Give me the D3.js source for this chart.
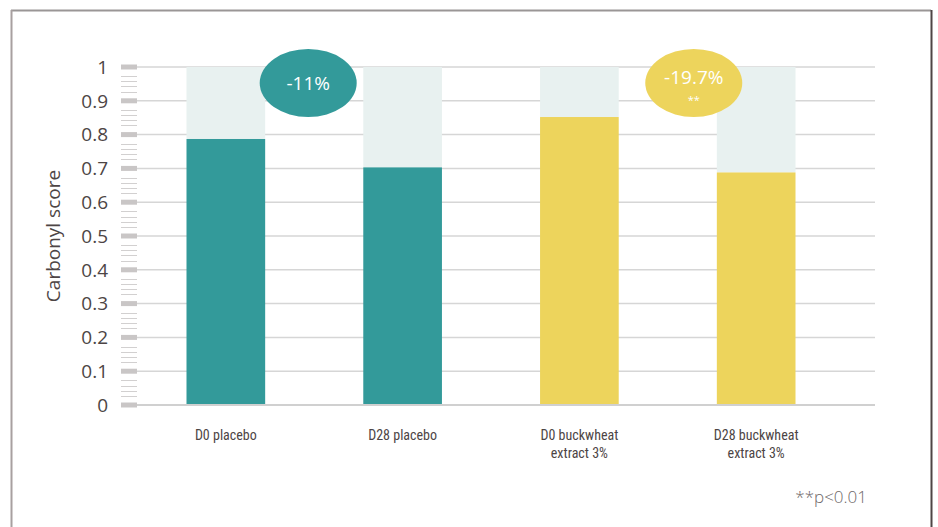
<!DOCTYPE html>
<html><head><meta charset="utf-8">
<script src="https://cdn.jsdelivr.net/npm/d3@7"></script>
<style>body{margin:0;background:#fff}svg{display:block}</style>
</head><body><svg id="c" width="938" height="527"></svg>
<script>
const categories = ["D0 placebo", "D28 placebo", "D0 buckwheat\nextract 3%", "D28 buckwheat\nextract 3%"];
const values = [0.787, 0.703, 0.852, 0.688];
const groups = ["placebo", "placebo", "buckwheat", "buckwheat"];
const yTicks = [0, 0.1, 0.2, 0.3, 0.4, 0.5, 0.6, 0.7, 0.8, 0.9, 1];
const minorOffsets = [0.0275, 0.0425, 0.0575, 0.0725];
const badgeGroups = ["placebo", "buckwheat"];
const badgeLabels = ["-11%", "-19.7%"];
const badgeSig = ["", "**"];
const colors = {placebo: "#339a9a", buckwheat: "#edd45c"};

const svg = d3.select("#c");
const txt = "#4d4545";
// frame
svg.append("line").attr("x1",11).attr("x2",931).attr("y1",10.5).attr("y2",10.5).attr("stroke","#9a9696").attr("stroke-width",2);
svg.append("line").attr("x1",11.5).attr("x2",11.5).attr("y1",10).attr("y2",527).attr("stroke","#a8a0a0").attr("stroke-width",2);
svg.append("line").attr("x1",931.5).attr("x2",931.5).attr("y1",10).attr("y2",527).attr("stroke","#4f4545").attr("stroke-width",2);

const y = d3.scaleLinear().domain([0,1]).range([405,67]);
const x = d3.scaleBand().domain(d3.range(categories.length)).range([137,845]).paddingInner(0.555).paddingOuter(0.28);
// continuous position along categories (index -> band centre)
const xc = d3.scaleLinear().domain([0,1]).range([x(0)+x.bandwidth()/2, x(1)+x.bandwidth()/2]);

// gridlines
svg.append("g").selectAll("line").data(yTicks).join("line")
  .attr("x1",137).attr("x2",875).attr("y1",d=>y(d)).attr("y2",d=>y(d))
  .attr("stroke","#d6d6d6").attr("stroke-width",1.5);

// minor ticks
const minor = [];
yTicks.slice(0,-1).forEach(t=>minorOffsets.forEach(o=>minor.push(t+o)));
svg.append("g").selectAll("line").data(minor).join("line")
  .attr("x1",121).attr("x2",137).attr("y1",d=>Math.round(y(d))+0.5).attr("y2",d=>Math.round(y(d))+0.5)
  .attr("stroke","#d2d0d0").attr("stroke-width",1);
// major ticks
svg.append("g").selectAll("line").data(yTicks).join("line")
  .attr("x1",121).attr("x2",137).attr("y1",d=>y(d)).attr("y2",d=>y(d))
  .attr("stroke","#c9c6c6").attr("stroke-width",5);
// tick labels
svg.append("g").selectAll("text").data(yTicks).join("text")
  .attr("x",108).attr("y",d=>y(d)).attr("dy","0.36em").attr("text-anchor","end")
  .attr("font-family","Open Sans, sans-serif").attr("font-size",19).attr("fill",txt)
  .text(d=>d3.format("")(d));
// axis title
svg.append("text").attr("transform","translate(60,236) rotate(-90)").attr("text-anchor","middle")
  .attr("font-family","Open Sans, sans-serif").attr("font-size",19).attr("fill",txt).text("Carbonyl score");

// background bars
svg.append("g").selectAll("rect").data(values).join("rect")
  .attr("x",(d,i)=>x(i)).attr("width",x.bandwidth()).attr("y",y(1)).attr("height",d=>y(d)-y(1))
  .attr("fill","#e8f1f0");
// bars
svg.append("g").selectAll("rect").data(values).join("rect")
  .attr("x",(d,i)=>x(i)).attr("width",x.bandwidth()).attr("y",d=>y(d)).attr("height",d=>y(0)-y(d))
  .attr("fill",(d,i)=>colors[groups[i]]);
// baseline
svg.append("line").attr("x1",137).attr("x2",875).attr("y1",y(0)).attr("y2",y(0)).attr("stroke","#d0d0d0").attr("stroke-width",2);

// category labels
const cl = svg.append("g").selectAll("text").data(categories).join("text")
  .attr("text-anchor","middle").attr("font-family","Liberation Sans Narrow, Roboto Condensed, sans-serif")
  .attr("font-size",14).attr("fill",txt)
  .attr("transform",(d,i)=>`translate(${x(i)+x.bandwidth()/2},440)`);
cl.selectAll("tspan").data(d=>d.split("\n")).join("tspan").attr("x",0).attr("dy",(d,i)=>i?18:0).text(d=>d);

// badges (annotation placement along the category axis)
const badgePos = [0.466, 2.647];
badgeLabels.forEach((lab,k)=>{
  const g = svg.append("g").attr("transform",`translate(${xc(badgePos[k])},83)`);
  g.append("ellipse").attr("rx",48.5).attr("ry",34).attr("fill",colors[badgeGroups[k]]);
  g.append("text").attr("text-anchor","middle").attr("y", badgeSig[k] ? 1 : 7).attr("fill","#fff")
    .attr("font-family","Open Sans, sans-serif").attr("font-size",19).text(lab);
  if (badgeSig[k]) g.append("text").attr("text-anchor","middle").attr("y",21).attr("fill","#fff")
    .attr("font-family","Open Sans, sans-serif").attr("font-size",11).text(badgeSig[k]);
});

svg.append("text").attr("x",867).attr("y",503).attr("text-anchor","end").attr("fill","#6e6868")
  .attr("font-family","Open Sans, sans-serif").attr("font-size",17).attr("font-weight",300).text("**p<0.01");
</script></body></html>
